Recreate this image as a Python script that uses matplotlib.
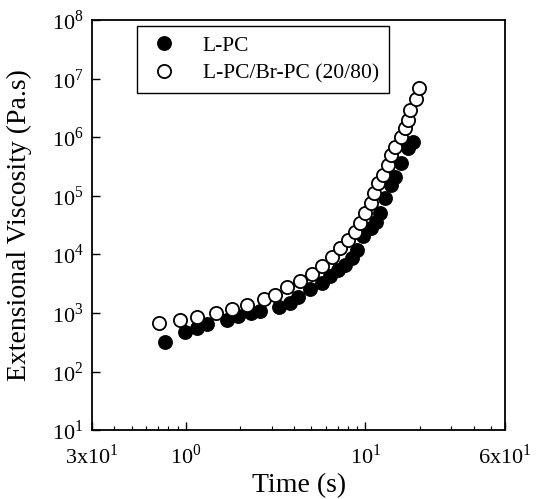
import numpy as np
import matplotlib
matplotlib.use("Agg")
from matplotlib import pyplot as plt
from matplotlib.ticker import FixedLocator, FixedFormatter, LogLocator, NullFormatter

plt.rcParams['font.family'] = ['Liberation Serif', 'DejaVu Serif']
plt.rcParams['mathtext.fontset'] = 'custom'
plt.rcParams['mathtext.rm'] = 'Liberation Serif'

# L-PC (filled circles)
t_lpc = [0.763, 0.987, 1.152, 1.31, 1.69, 1.95, 2.31, 2.59, 3.31, 3.81, 4.22, 4.93,
         5.75, 6.37, 7.06, 7.73, 8.46, 9.02, 9.75, 10.7, 11.4, 12.1, 12.9, 13.8,
         14.7, 15.7, 17.2, 18.3]
eta_lpc = [318, 471, 551, 645, 755, 884, 994, 1075, 1259, 1473, 1866, 2555,
           3235, 4259, 5391, 6560, 8650, 11840, 20500, 28100, 35600, 50700, 91400, 152000,
           209000, 362000, 653000, 826000]

# L-PC/Br-PC (20/80) (open circles)
t_blend = [0.706, 0.926, 1.152, 1.471, 1.807, 2.19, 2.73, 3.14, 3.67, 4.33, 5.06,
           5.75, 6.54, 7.25, 8.04, 8.79, 9.38, 10.0, 10.7, 11.1, 11.8, 12.6, 13.3,
           13.8, 14.7, 15.7, 16.7, 17.2, 17.8, 19.0, 19.8]
eta_blend = [671, 755, 850, 994, 1164, 1361, 1725, 2018, 2763, 3499, 4606,
             6310, 8990, 12800, 17500, 24000, 34200, 50700, 75000, 111000, 165000, 226000, 334000,
             495000, 679000, 1.0e6, 1.43e6, 1.96e6, 2.9e6, 4.48e6, 6.9e6]

xticks = [0.3, 1, 10, 60]
xtick_labels = ['3x10$^1$', '10$^0$', '10$^1$', '6x10$^1$']
yticks = [1e1, 1e2, 1e3, 1e4, 1e5, 1e6, 1e7, 1e8]
ytick_labels = ['10$^{%d}$' % i for i in range(1, 9)]

fig = plt.figure(figsize=(5.38, 4.99), dpi=100)
ax = fig.add_axes([0.171, 0.138, 0.768, 0.822])

ax.plot(t_lpc, eta_lpc, 'o', ms=9.5, color='black', mec='black', mew=1.2,
        label='L-PC', zorder=2)
ax.plot(t_blend, eta_blend, 'o', ms=9.5, mfc='white', mec='black', mew=1.3,
        label='L-PC/Br-PC (20/80)', zorder=3)

ax.set_xscale('log')
ax.set_yscale('log')
ax.set_xlim(0.3, 60)
ax.set_ylim(1e1, 1e8)

ax.xaxis.set_major_locator(FixedLocator(xticks))
ax.xaxis.set_major_formatter(FixedFormatter(xtick_labels))
ax.xaxis.set_minor_locator(LogLocator(base=10, subs=np.arange(2, 10)))
ax.xaxis.set_minor_formatter(NullFormatter())
ax.yaxis.set_major_locator(FixedLocator(yticks))
ax.yaxis.set_major_formatter(FixedFormatter(ytick_labels))
ax.yaxis.set_minor_locator(FixedLocator([]))

ax.tick_params(which='both', direction='in', top=False, right=False, labelsize=16)
ax.tick_params(axis='x', pad=10)
ax.tick_params(axis='y', pad=6)
ax.tick_params(which='major', length=6, width=1)
ax.tick_params(which='minor', length=3, width=0.8)
for s in ax.spines.values():
    s.set_linewidth(1.3)

ax.set_xlabel('Time (s)', fontsize=20)
ax.set_ylabel('Extensional Viscosity (Pa.s)', fontsize=20)
ax.xaxis.set_label_coords(0.5, -0.105)
ax.yaxis.set_label_coords(-0.145, 0.5)

leg = ax.legend(loc='upper left', bbox_to_anchor=(0.109, 0.985), fontsize=15.5,
                frameon=True, fancybox=False, edgecolor='black', framealpha=1,
                borderaxespad=0, handletextpad=1.0, borderpad=0.45,
                labelspacing=0.35, handlelength=1.6)
leg.get_frame().set_linewidth(1.0)

fig.savefig('out.png', dpi=100)
